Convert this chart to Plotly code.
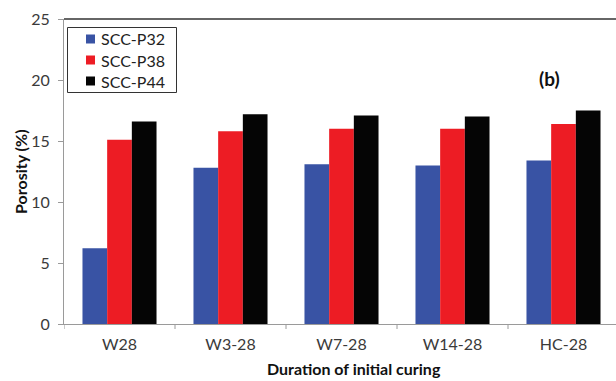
import plotly.graph_objects as go

# Porosity (%) after different initial curing regimes
curing = ["W28", "W3-28", "W7-28", "W14-28", "HC-28"]
scc_p32 = [6.2, 12.8, 13.1, 13.0, 13.4]
scc_p38 = [15.1, 15.8, 16.0, 16.0, 16.4]
scc_p44 = [16.6, 17.2, 17.1, 17.0, 17.5]
y_ticks = [0, 5, 10, 15, 20, 25]

W, H = 616, 381
L, R, T, B = 64, 0, 19, 57
plot_w = W - L - R
plot_h = H - T - B
cat_px = 111.0

series = [
    ("SCC-P32", scc_p32, "#3953A4"),
    ("SCC-P38", scc_p38, "#ED1C24"),
    ("SCC-P44", scc_p44, "#050505"),
]

font = "Lato, Carlito, 'Open Sans', sans-serif"


def px(x):
    return (x - L) / plot_w


def py(y):
    return 1 - (y - T) / plot_h


fig = go.Figure()
for name, vals, color in series:
    fig.add_trace(go.Bar(
        x=curing, y=vals, name=name,
        marker=dict(color=color, line=dict(width=0)),
        showlegend=False,
    ))

fig.update_layout(
    width=W, height=H,
    margin=dict(l=L, r=R, t=T, b=B, pad=0),
    paper_bgcolor="white", plot_bgcolor="white",
    barmode="group", bargap=0.333, bargroupgap=0,
    font=dict(family=font, size=16, color="#3a3a3a"),
    xaxis=dict(
        range=[-0.5, -0.5 + plot_w / cat_px],
        showline=True, linecolor="#9a9a9a", linewidth=1,
        ticks="", showgrid=False, zeroline=False,
        ticklabelstandoff=6,
        tickfont=dict(family=font, size=16, color="#3a3a3a"),
        fixedrange=True,
    ),
    yaxis=dict(
        range=[0, 25], tickvals=y_ticks,
        showline=True, linecolor="#9a9a9a", linewidth=1,
        ticks="outside", ticklen=5, tickcolor="#9a9a9a",
        showgrid=False, zeroline=False,
        ticklabelstandoff=5,
        tickfont=dict(family=font, size=16, color="#3a3a3a"),
        fixedrange=True,
    ),
)

# category boundary tick marks beneath the x axis
for i in range(len(curing) + 1):
    fig.add_shape(
        type="line", xref="x", yref="paper",
        x0=i - 0.5, x1=i - 0.5, y0=0, y1=-5 / plot_h,
        line=dict(color="#9a9a9a", width=1),
    )

# top frame line
fig.add_shape(
    type="line", xref="paper", yref="paper",
    x0=0, x1=1, y0=1, y1=1,
    line=dict(color="#333333", width=1.5),
)

# legend box with swatches and labels
fig.add_shape(
    type="rect", xref="paper", yref="paper",
    x0=px(67.5), x1=px(176.5), y0=py(27.5), y1=py(92.5),
    line=dict(color="#333333", width=1), fillcolor="white",
)
for k, (name, _, color) in enumerate(series):
    cy = 39 + 21 * k
    fig.add_shape(
        type="rect", xref="paper", yref="paper",
        x0=px(86), x1=px(95), y0=py(cy - 4.5), y1=py(cy + 4.5),
        line=dict(width=0), fillcolor=color,
    )
    fig.add_annotation(
        text=name, xref="paper", yref="paper",
        x=px(99), y=py(cy), xanchor="left", yanchor="middle",
        showarrow=False,
        font=dict(family=font, size=16, color="#222222"),
    )

fig.add_annotation(
    text="<b>Porosity (%)</b>", textangle=-90,
    xref="paper", yref="paper",
    x=px(20), y=py(172),
    xanchor="center", yanchor="middle", showarrow=False,
    font=dict(family=font, size=16, color="#111111"),
)
fig.add_annotation(
    text="<b>Duration of initial curing</b>",
    xref="paper", yref="paper",
    x=px(354), y=py(368),
    xanchor="center", yanchor="middle", showarrow=False,
    font=dict(family=font, size=16, color="#111111"),
)
fig.add_annotation(
    text="<b>(b)</b>",
    xref="paper", yref="paper",
    x=px(549), y=py(78),
    xanchor="center", yanchor="middle", showarrow=False,
    font=dict(family=font, size=19, color="#111111"),
)

fig.write_html("out.html")
